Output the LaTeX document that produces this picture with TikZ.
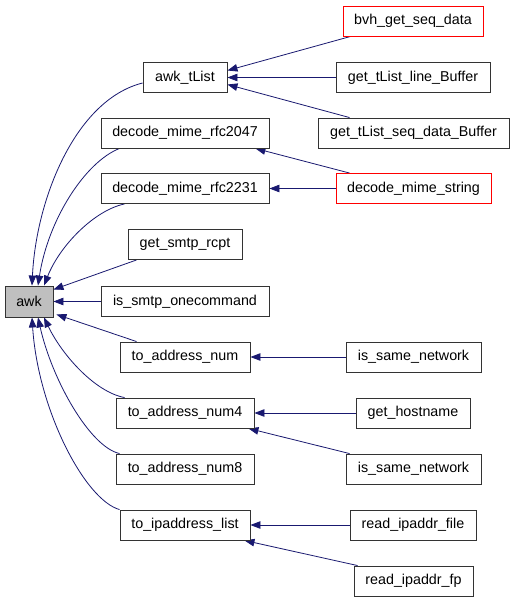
\documentclass[tikz,border=0pt]{standalone}
\usepackage{fontspec}
\setmainfont{Liberation Sans}
\usetikzlibrary{arrows.meta}
\definecolor{edgeblue}{HTML}{191970}
\definecolor{boxgray}{HTML}{BFBFBF}
\pgfdeclarelayer{edges}
\pgfsetlayers{edges,main}
\begin{document}
\begin{tikzpicture}[x=1pt,y=-1pt,
  fn/.style={draw=black!80, line width=0.9pt, rectangle, inner sep=0pt, minimum height=30pt,
    font=\fontsize{14.3}{16}\selectfont, fill=white},
  redfn/.style={fn, draw=red},
  call/.style={draw=edgeblue, line width=0.8pt, {Triangle[length=10pt,width=7.5pt]}-}]
\useasboundingbox (0,0) rectangle (515,603);
% left column
\node[fn, fill=boxgray, minimum width=48pt, minimum height=31pt] (awk) at (29,301.5) {awk};
% middle column
\node[fn, minimum width=84pt] (tlist) at (185,77.5) {awk\_tList};
\node[fn, minimum width=168pt] (r2047) at (185,133) {decode\_mime\_rfc2047};
\node[fn, minimum width=168pt] (r2231) at (185,188.5) {decode\_mime\_rfc2231};
\node[fn, minimum width=114pt] (rcpt) at (185,244.5) {get\_smtp\_rcpt};
\node[fn, minimum width=168pt] (onecmd) at (185,301.5) {is\_smtp\_onecommand};
\node[fn, minimum width=130pt] (anum) at (185,357) {to\_address\_num};
\node[fn, minimum width=138pt] (anum4) at (185,413) {to\_address\_num4};
\node[fn, minimum width=138pt] (anum8) at (185,469) {to\_address\_num8};
\node[fn, minimum width=130pt] (iplist) at (185,525) {to\_ipaddress\_list};
% right column
\node[redfn, minimum width=140pt] (bvh) at (413,21) {bvh\_get\_seq\_data};
\node[fn, minimum width=154pt] (linebuf) at (413,77.5) {get\_tList\_line\_Buffer};
\node[fn, minimum width=191pt] (seqbuf) at (413.5,133) {get\_tList\_seq\_data\_Buffer};
\node[redfn, minimum width=155pt] (mimestr) at (413.5,188.5) {decode\_mime\_string};
\node[fn, minimum width=135pt] (same1) at (413.5,357) {is\_same\_network};
\node[fn, minimum width=114pt] (host) at (413,413) {get\_hostname};
\node[fn, minimum width=135pt] (same2) at (413.5,469) {is\_same\_network};
\node[fn, minimum width=126pt] (rfile) at (413,525) {read\_ipaddr\_file};
\node[fn, minimum width=119pt] (rfp) at (413.5,581) {read\_ipaddr\_fp};
\begin{pgfonlayer}{edges}
\fill[white] (0,0) rectangle (515,603);
% edges into awk
\draw[call] ([xshift=3pt]awk.north) .. controls (36,200) and (75,100) .. ([yshift=-5.5pt]tlist.west);
\draw[call] ([xshift=9pt]awk.north) .. controls (48,220) and (85,162) .. ([xshift=19pt]r2047.south west);
\draw[call] ([xshift=15pt]awk.north) .. controls (60,245) and (95,210) .. ([xshift=24pt]r2231.south west);
\draw[call] ([yshift=-4pt]awk.north east) -- ([xshift=9pt]rcpt.south west);
\draw[call] (awk.east) -- (onecmd.west);
\draw[call] ([xshift=3pt,yshift=3pt]awk.south east) -- ([xshift=17pt]anum.north west);
\draw[call] ([xshift=15pt]awk.south) .. controls (62,355) and (95,392) .. ([xshift=9pt]anum4.north west);
\draw[call] ([xshift=9pt]awk.south) .. controls (52,380) and (90,447) .. ([xshift=4pt]anum8.north west);
\draw[call] ([xshift=3pt]awk.south) .. controls (38,410) and (85,500) .. (iplist.north west);
% right edges
\draw[call] ([yshift=7pt]tlist.east) -- ([xshift=8pt]bvh.south west);
\draw[call] (tlist.east) -- (linebuf.west);
\draw[call] ([yshift=-7pt]tlist.east) -- ([xshift=32pt]seqbuf.north west);
\draw[call] ([xshift=-14pt]r2047.south east) -- ([xshift=14pt]mimestr.north west);
\draw[call] (r2231.east) -- (mimestr.west);
\draw[call] (anum.east) -- (same1.west);
\draw[call] (anum4.east) -- (host.west);
\draw[call] ([xshift=-6pt]anum4.south east) -- ([xshift=4pt]same2.north west);
\draw[call] (iplist.east) -- (rfile.west);
\draw[call] ([xshift=-6pt]iplist.south east) -- ([xshift=4pt]rfp.north west);
\end{pgfonlayer}
\end{tikzpicture}
\end{document}
